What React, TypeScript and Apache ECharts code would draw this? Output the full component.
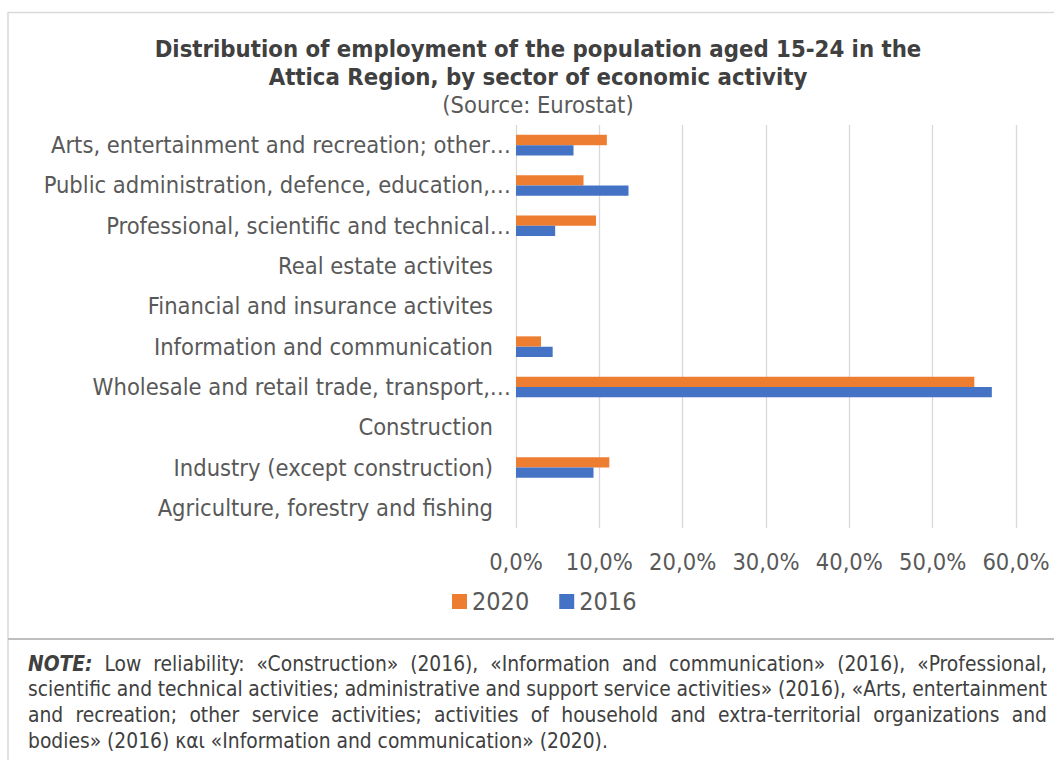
import React, { useEffect, useRef } from 'react';
import * as echarts from 'echarts';

const categories = [
  'Agriculture, forestry and fishing',
  'Industry (except construction)',
  'Construction',
  'Wholesale and retail trade, transport,…',
  'Information and communication',
  'Financial and insurance activites',
  'Real estate activites',
  'Professional, scientific and technical…',
  'Public administration, defence, education,…',
  'Arts, entertainment and recreation; other…',
];
const values2020 = [null, 11.2, null, 55.0, 3.0, null, null, 9.6, 8.1, 10.9];
const values2016 = [null, 9.3, null, 57.1, 4.4, null, null, 4.7, 13.5, 6.9];
const seriesNames = ['2020', '2016'];
const xTicks = [0, 10, 20, 30, 40, 50, 60];

const titleLines = [
  'Distribution of employment of the population aged 15-24 in the',
  'Attica Region, by sector of economic activity',
];
const subtitle = '(Source: Eurostat)';
const noteLines = [
  'NOTE: Low reliability: «Construction» (2016), «Information and communication» (2016), «Professional,',
  'scientific and technical activities; administrative and support service activities» (2016), «Arts, entertainment',
  'and recreation; other service activities; activities of household and extra-territorial organizations and',
  'bodies» (2016) και «Information and communication» (2020).',
];

const FAMILY = "'DejaVu Sans Condensed', 'DejaVu Sans', sans-serif";
const NOTE_SIZE = 20.8;
const NOTE_COLOR = '#404040';
const LABEL_SIZE = 23.5;

function buildNote(): any[] {
  const canvas = document.createElement('canvas');
  const ctx = canvas.getContext('2d') as CanvasRenderingContext2D;
  const left = 28;
  const right = 1047;
  const top0 = 663.5;
  const step = 25.8;
  const normalFont = `normal normal ${NOTE_SIZE}px ${FAMILY}`;
  const biFont = `italic bold ${NOTE_SIZE}px ${FAMILY}`;
  const els: any[] = [];
  noteLines.forEach((line, i) => {
    const words = line.split(' ');
    const isBI = words.map((_, j) => i === 0 && j === 0);
    const widths = words.map((w, j) => {
      ctx.font = isBI[j] ? biFont : normalFont;
      return ctx.measureText(w).width;
    });
    const total = widths.reduce((a, b) => a + b, 0);
    ctx.font = normalFont;
    const sp = ctx.measureText(' ').width;
    const justify = i < noteLines.length - 1;
    const gap = justify ? (right - left - total) / (words.length - 1) : sp;
    let x = left;
    words.forEach((w, j) => {
      els.push({
        type: 'text',
        x,
        y: top0 + i * step,
        silent: true,
        style: {
          text: w,
          fontSize: NOTE_SIZE,
          fontFamily: FAMILY,
          fontWeight: isBI[j] ? 'bold' : 'normal',
          fontStyle: isBI[j] ? 'italic' : 'normal',
          fill: NOTE_COLOR,
          verticalAlign: 'middle',
          align: 'left',
        },
      });
      x += widths[j] + gap;
    });
  });
  return els;
}

export default function App() {
  const ref = useRef<HTMLDivElement>(null);
  useEffect(() => {
    document.body.style.margin = '0';
    if (!ref.current) return;
    const chart = echarts.init(ref.current, undefined, { renderer: 'svg' });
    const option: any = {
      animation: false,
      backgroundColor: '#ffffff',
      title: {
        text: titleLines.join('\n'),
        subtext: subtitle,
        left: 538,
        top: 35,
        textAlign: 'center',
        padding: 0,
        itemGap: 0,
        textStyle: {
          fontFamily: FAMILY,
          fontSize: 23.7,
          fontWeight: 'bold',
          color: '#404040',
          lineHeight: 28,
        },
        subtextStyle: {
          fontFamily: FAMILY,
          fontSize: LABEL_SIZE,
          color: '#595959',
          lineHeight: 27,
        },
      },
      legend: {
        data: seriesNames,
        left: 452,
        top: 589,
        icon: 'rect',
        itemWidth: 15,
        itemHeight: 15,
        itemGap: 30,
        padding: 0,
        textStyle: {
          fontFamily: FAMILY,
          fontSize: 25,
          color: '#595959',
          lineHeight: 25,
        },
      },
      grid: {
        left: 516,
        right: 38,
        top: 125,
        bottom: 232,
        containLabel: false,
      },
      xAxis: {
        type: 'value',
        min: 0,
        max: 60,
        interval: 10,
        axisLine: { show: false },
        axisTick: { show: false },
        splitLine: { show: true, lineStyle: { color: '#d9d9d9', width: 1.3 } },
        axisLabel: {
          margin: 22,
          fontFamily: FAMILY,
          fontSize: LABEL_SIZE,
          color: '#595959',
          formatter: (v: number) =>
            xTicks.includes(v) ? `${v.toFixed(1).replace('.', ',')}%` : '',
        },
      },
      yAxis: {
        type: 'category',
        data: categories,
        axisLine: { show: false },
        axisTick: { show: false },
        splitLine: { show: false },
        axisLabel: {
          margin: 5,
          fontFamily: FAMILY,
          fontSize: LABEL_SIZE,
          color: '#595959',
          formatter: (v: string) => (v.endsWith('…') ? `{t|${v}}` : `{n|${v}}`),
          rich: {
            t: { fontFamily: FAMILY, fontSize: LABEL_SIZE, color: '#595959' },
            n: { fontFamily: FAMILY, fontSize: LABEL_SIZE, color: '#595959', padding: [0, 18, 0, 0] },
          },
        },
      },
      series: [
        {
          name: seriesNames[0],
          type: 'bar',
          data: values2020,
          barWidth: 10.3,
          barGap: '0%',
          itemStyle: { color: '#ED7D31' },
        },
        {
          name: seriesNames[1],
          type: 'bar',
          data: values2016,
          barWidth: 10.3,
          barGap: '0%',
          itemStyle: { color: '#4472C4' },
        },
      ],
      graphic: [
        { type: 'line', silent: true, shape: { x1: 8, y1: 12.5, x2: 1054, y2: 12.5 }, style: { stroke: '#d9d9d9', lineWidth: 1.5 } },
        { type: 'line', silent: true, shape: { x1: 8, y1: 12, x2: 8, y2: 760 }, style: { stroke: '#d9d9d9', lineWidth: 1.5 } },
        { type: 'line', silent: true, shape: { x1: 8, y1: 639, x2: 1054, y2: 639 }, style: { stroke: '#bfbfbf', lineWidth: 2 } },
        ...buildNote(),
      ],
    };
    chart.setOption(option);
    return () => chart.dispose();
  }, []);
  return <div ref={ref} style={{ width: 1054, height: 760 }} />;
}
